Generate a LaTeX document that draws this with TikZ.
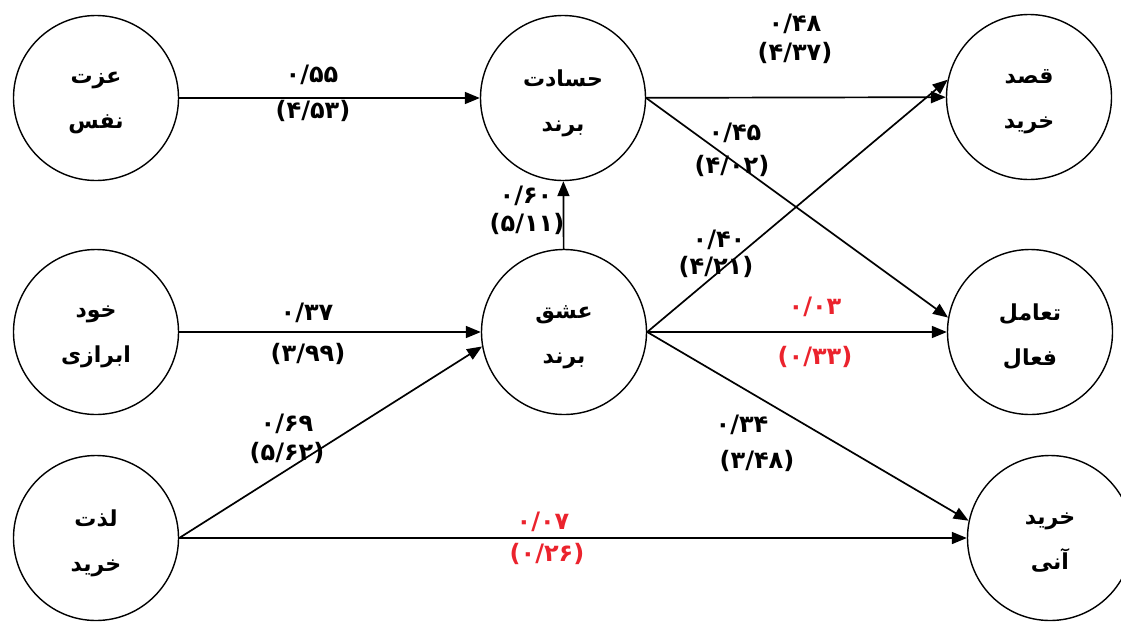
\documentclass[tikz,border=0pt]{standalone}
\usepackage{fontspec}
\usetikzlibrary{arrows.meta}
\TeXXeTstate=1
\newfontfamily\arabicfont[Script=Arabic]{DejaVu Sans}
\newfontfamily\numfont{DejaVu Sans}
\definecolor{lblred}{RGB}{235,35,45}
\begin{document}
\begin{tikzpicture}[x=1pt,y=-1pt,
  var/.style={circle,draw,line width=1.4pt,minimum size=165pt,inner sep=0pt},
  vtext/.style={align=center,inner sep=0pt,font=\arabicfont\bfseries\fontsize{22}{45}\selectfont},
  path/.style={line width=1.7pt,-{Triangle[length=15pt,width=12pt]}},
  lbl/.style={font=\numfont\bfseries\fontsize{24}{26}\selectfont,inner sep=0pt},
  rlbl/.style={lbl,text=lblred}]
\useasboundingbox (0,0) rectangle (1121,622);

\node[var] (ezat) at (96,98) {};
\node[var] (hesadat) at (563,98) {};
\node[var] (ghasd) at (1029,97) {};
\node[var] (khod) at (96,332) {};
\node[var] (eshgh) at (564,332) {};
\node[var] (taamol) at (1030,332) {};
\node[var] (lezat) at (96,538) {};
\node[var] (ani) at (1050,538) {};

\node[vtext] (ezat-t) at ([yshift=-5pt]ezat.center) {\beginR عزت\endR\\\beginR نفس\endR};
\node[vtext] (hesadat-t) at ([yshift=-5pt]hesadat.center) {\beginR حسادت\endR\\\beginR برند\endR};
\node[vtext] (ghasd-t) at ([yshift=-5pt]ghasd.center) {\beginR قصد\endR\\\beginR خرید\endR};
\node[vtext] (khod-t) at ([yshift=-5pt]khod.center) {\beginR خود\endR\\\beginR ابرازی\endR};
\node[vtext] (eshgh-t) at ([yshift=-5pt]eshgh.center) {\beginR عشق\endR\\\beginR برند\endR};
\node[vtext] (taamol-t) at ([yshift=-5pt]taamol.center) {\beginR تعامل\endR\\\beginR فعال\endR};
\node[vtext] (lezat-t) at ([yshift=-5pt]lezat.center) {\beginR لذت\endR\\\beginR خرید\endR};
\node[vtext] (ani-t) at ([yshift=-5pt]ani.center) {\beginR خرید\endR\\\beginR آنی\endR};

\draw[path] (ezat) -- (hesadat);
\draw[path] (hesadat) -- (ghasd);
\draw[path] (hesadat.east) -- (taamol.170);
\draw[path] (eshgh) -- (hesadat);
\draw[path] (khod) -- (eshgh);
\draw[path] (lezat.east) -- (eshgh.190);
\draw[path] (eshgh.east) -- (ghasd.168);
\draw[path] (eshgh) -- (taamol);
\draw[path] (eshgh.east) -- (ani.168);
\draw[path] (lezat) -- (ani);

\node[lbl] (l1a) at (312,75) {۰/۵۵};
\node[lbl] (l1b) at (313,111) {(۴/۵۳)};
\node[lbl] (l2a) at (795,24) {۰/۴۸};
\node[lbl] (l2b) at (795,53) {(۴/۳۷)};
\node[lbl] (l3a) at (735,133) {۰/۴۵};
\node[lbl] (l3b) at (732,166) {(۴/۰۲)};
\node[lbl] (l4a) at (526,196) {۰/۶۰};
\node[lbl] (l4b) at (527,224) {(۵/۱۱)};
\node[lbl] (l5a) at (307,313) {۰/۳۷};
\node[lbl] (l5b) at (308,354) {(۳/۹۹)};
\node[lbl] (l6a) at (287,424) {۰/۶۹};
\node[lbl] (l6b) at (287,453) {(۵/۶۲)};
\node[lbl] (l7a) at (719,240) {۰/۴۰};
\node[lbl] (l7b) at (716,267) {(۴/۲۱)};
\node[rlbl] (l8a) at (815,307) {۰/۰۳};
\node[rlbl] (l8b) at (815,357) {(۰/۳۳)};
\node[lbl] (l9a) at (742,425) {۰/۳۴};
\node[lbl] (l9b) at (757,461) {(۳/۴۸)};
\node[rlbl] (l10a) at (543,522) {۰/۰۷};
\node[rlbl] (l10b) at (547,554) {(۰/۲۶)};
\end{tikzpicture}
\end{document}
